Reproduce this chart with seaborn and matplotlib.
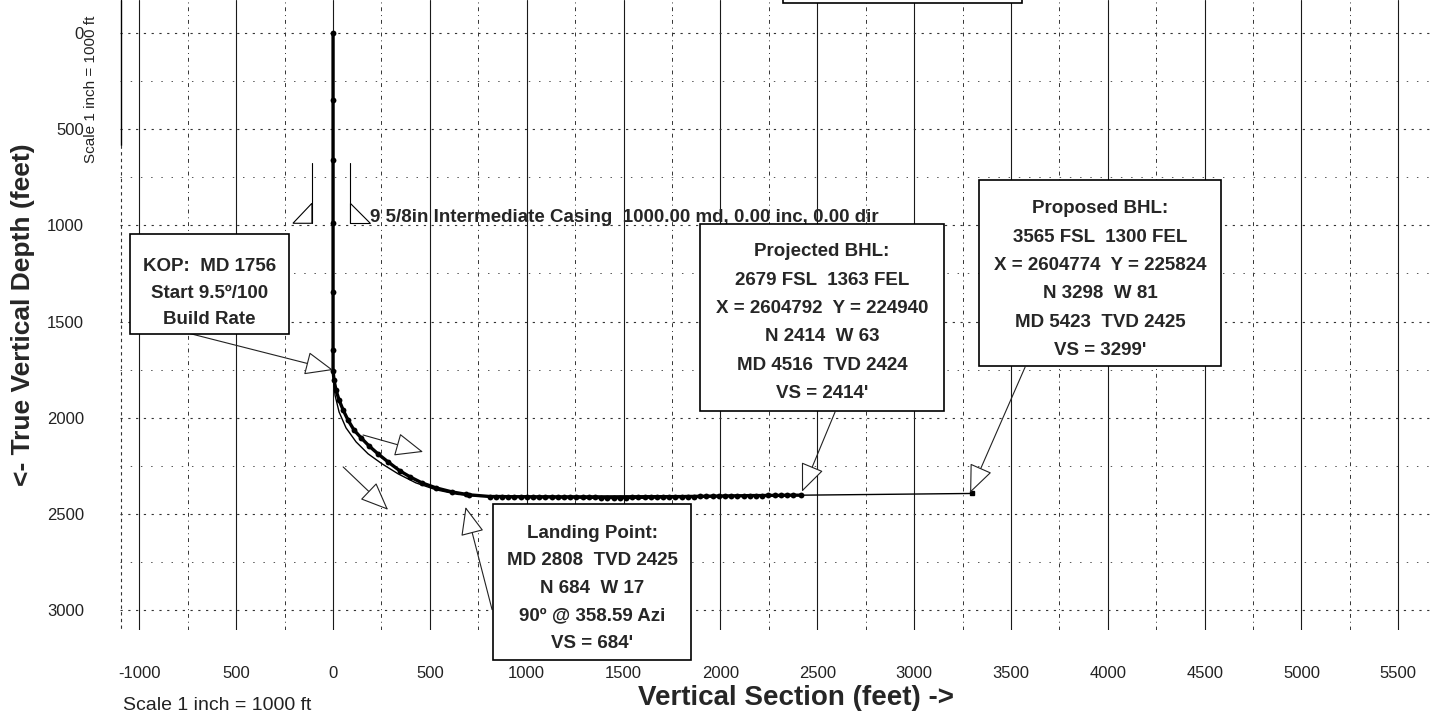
import matplotlib
matplotlib.use("Agg")
import matplotlib.pyplot as plt
from matplotlib.patches import Rectangle, Polygon
from matplotlib.ticker import MultipleLocator
import pandas as pd
import seaborn as sns

# survey stations (vertical section ft, true vertical depth ft)
vert_vs = [0, 0, 0, 0, 0, 0, 0]
vert_tvd = [0, 349, 662, 985, 1344, 1646, 1756]

curve_vs = [5, 15, 31, 52, 77, 108, 145, 186, 232, 284, 346, 398, 459, 532, 614, 684, 702, 811]
curve_tvd = [1804, 1856, 1908, 1960, 2012, 2064, 2105, 2147, 2188, 2230, 2277, 2308, 2339, 2365, 2386, 2398, 2401, 2410]

lat_vs = [840, 872, 904, 936, 968, 1000, 1032, 1064, 1096, 1128, 1160, 1192, 1224, 1256,
          1288, 1320, 1352, 1384, 1416, 1448, 1480, 1512, 1544, 1576, 1608, 1640, 1672,
          1704, 1736, 1768, 1800, 1832, 1864, 1896, 1928, 1960, 1992, 2024, 2056, 2088,
          2120, 2152, 2184, 2216, 2248, 2280, 2312, 2344, 2376, 2414]
lat_tvd = [2410, 2410, 2411, 2411, 2411, 2411, 2412, 2412, 2412, 2412, 2413, 2413, 2413, 2413,
           2414, 2414, 2414, 2415, 2415, 2415, 2415, 2415, 2414, 2414, 2414, 2413, 2413,
           2412, 2412, 2411, 2411, 2410, 2410, 2409, 2409, 2408, 2408, 2407, 2407, 2406,
           2406, 2405, 2405, 2405, 2404, 2404, 2404, 2403, 2403, 2403]

# plan line
plan_vs = [0, 0, 10, 31, 67, 119, 181, 253, 336, 428, 532, 645, 759, 2414, 3299]
plan_tvd = [0, 1756, 1882, 1970, 2053, 2126, 2188, 2240, 2292, 2339, 2375, 2399, 2409, 2403, 2394]

# target points
key_vs = [0, 684, 2414, 3299]
key_tvd = [1756, 2398, 2403, 2394]

x_ticks = [-1000, -500, 0, 500, 1000, 1500, 2000, 2500, 3000, 3500, 4000, 4500, 5000, 5500]
x_labels = ["-1000", "500", "0", "500", "1000", "1500", "2000", "2500", "3000", "3500",
            "4000", "4500", "5000", "5500"]
y_ticks = [0, 500, 1000, 1500, 2000, 2500, 3000]

kop_text = "KOP:  MD 1756\nStart 9.5\u00ba/100\nBuild Rate"
landing_text = "Landing Point:\nMD 2808  TVD 2425\nN 684  W 17\n90\u00ba @ 358.59 Azi\nVS = 684'"
proj_text = "Projected BHL:\n2679 FSL  1363 FEL\nX = 2604792  Y = 224940\nN 2414  W 63\nMD 4516  TVD 2424\nVS = 2414'"
prop_text = "Proposed BHL:\n3565 FSL  1300 FEL\nX = 2604774  Y = 225824\nN 3298  W 81\nMD 5423  TVD 2425\nVS = 3299'"
casing_text = "9 5/8in Intermediate Casing  1000.00 md, 0.00 inc, 0.00 dir"

sns.set_theme(style="white")
plt.rcParams["font.family"] = ["Liberation Sans", "DejaVu Sans"]

survey = pd.DataFrame({"vs": vert_vs + curve_vs + lat_vs, "tvd": vert_tvd + curve_tvd + lat_tvd})
plan = pd.DataFrame({"vs": plan_vs, "tvd": plan_tvd})

fig = plt.figure(figsize=(14.33, 7.15), dpi=100)
ax = fig.add_axes([120 / 1433, 85 / 715, 1313 / 1433, 630 / 715])

sns.lineplot(data=plan, x="vs", y="tvd", sort=False, estimator=None, color="black", lw=1.0, ax=ax, zorder=4)
sns.lineplot(data=survey, x="vs", y="tvd", sort=False, estimator=None, color="black", lw=2.4,
             marker="o", markersize=4.2, markeredgewidth=0, ax=ax, zorder=5)
ax.plot(key_vs[-1:], key_tvd[-1:], marker="s", ms=3.5, color="black", zorder=6)

ax.set_xlim(-1100, 5679)
ax.set_ylim(3104, -172)
ax.set_xticks(x_ticks)
ax.set_xticklabels(x_labels)
ax.set_yticks(y_ticks)
ax.xaxis.set_minor_locator(MultipleLocator(250))
ax.yaxis.set_minor_locator(MultipleLocator(250))
ax.tick_params(which="both", length=0, labelsize=12, labelcolor="#222222", pad=26)
ax.set_xlabel("")
ax.set_ylabel("")
for s in ax.spines.values():
    s.set_visible(False)

ax.grid(which="major", axis="x", color="#1a1a1a", lw=0.8, ls="-")
ax.grid(which="minor", axis="x", color="#333333", lw=0.7, ls=(0, (4, 4, 1, 4)))
ax.grid(which="major", axis="y", color="#333333", lw=0.8, ls=(0, (2, 5)))
ax.grid(which="minor", axis="y", color="#555555", lw=0.7, ls=(0, (1.5, 9)))
ax.set_axisbelow(True)

# scale bar / left edge
ax.plot([-1097, -1097], [-172, 584], color="black", lw=1.0)
ax.plot([-1097, -1097], [584, 3104], color="#333333", lw=0.8, ls=(0, (3, 3)))

# casing symbol
for x in (-109, 88):
    ax.plot([x, x], [678, 989], color="black", lw=0.8)
ax.add_patch(Polygon([(-207, 989), (-109, 885), (-109, 989)], closed=True, fc="white", ec="black", lw=0.8, zorder=3))
ax.add_patch(Polygon([(88, 885), (88, 989), (191, 989)], closed=True, fc="white", ec="black", lw=0.8, zorder=3))
ax.text(191, 958, casing_text, fontsize=13.5, fontweight="bold", ha="left", va="center", zorder=7)

boxes = [
    ((-1048, 1046), 821, 519, kop_text, (-640, 1353), 1.72),
    ((826, 2448), 1022, 810, landing_text, (1337, 2887), 1.8),
    ((1895, 994), 1259, 971, proj_text, (2524, 1506), 1.87),
    ((3335, 766), 1249, 966, prop_text, (3960, 1282), 1.87),
    ((2323, -400), 1234, 242, "", (2940, -280), 1.5),
]
for (x0, y0), w, h, txt, (tx, ty), lsp in boxes:
    ax.add_patch(Rectangle((x0, y0), w, h, fc="white", ec="black", lw=1.2, zorder=8,
                           clip_on=(y0 < 0)))
    if txt:
        ax.text(tx, ty, txt, fontsize=13.5, fontweight="bold", ha="center", va="center",
                multialignment="center", linespacing=lsp, zorder=9, clip_on=False)

arrows = [
    ((-749, 1560), (key_vs[0], 1752)),
    ((155, 2090), (465, 2178)),
    ((52, 2256), (284, 2479)),
    ((821, 2998), (key_vs[1], 2464)),
    ((2592, 1970), (2421, 2385)),
    ((3573, 1737), (3289, 2391)),
]
for start, tip in arrows:
    ax.annotate("", xy=tip, xytext=start, zorder=7,
                arrowprops=dict(arrowstyle="-|>,head_length=1.2,head_width=0.5", mutation_scale=15,
                                fc="white", ec="#222222", lw=0.8, shrinkA=0, shrinkB=0))

fig.text(23 / 1433, 1 - 315 / 715, "<- True Vertical Depth (feet)", rotation=90, fontsize=19,
         fontweight="bold", ha="center", va="center")
fig.text(796 / 1433, 1 - 698 / 715, "Vertical Section (feet) ->", fontsize=20, fontweight="bold",
         ha="center", va="center")
fig.text(123 / 1433, 1 - 706 / 715, "Scale 1 inch = 1000 ft", fontsize=14, ha="left", va="center",
         color="#222222")
fig.text(91 / 1433, 1 - 89 / 715, "Scale 1 inch = 1000 ft", fontsize=11, rotation=90, ha="center",
         va="center", color="#222222")

fig.savefig("out.png", dpi=100)
